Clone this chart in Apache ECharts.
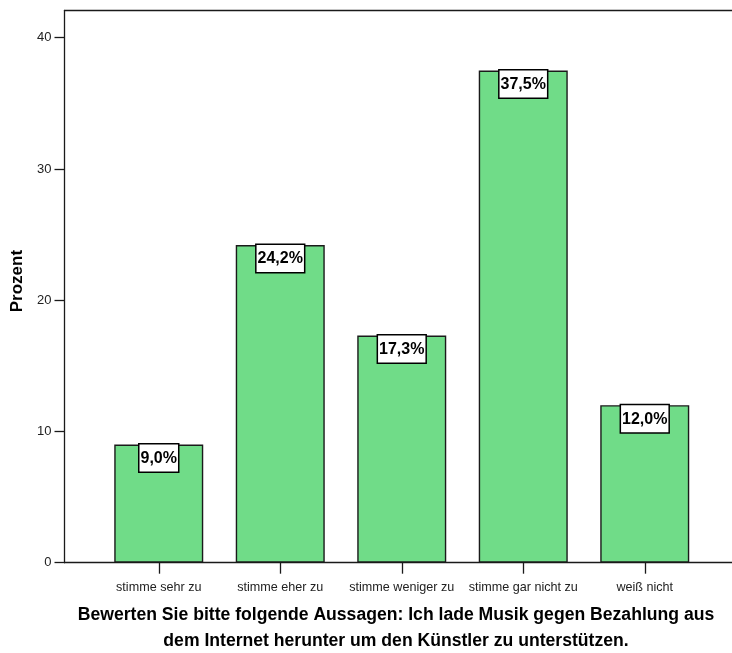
<!DOCTYPE html>
<html>
<head>
<meta charset="utf-8">
<script src="https://cdn.jsdelivr.net/npm/echarts@6/dist/echarts.min.js"></script>
<style>
  html, body { margin: 0; padding: 0; background: #fff; }
  #main { width: 732px; height: 653px; }
</style>
</head>
<body>
<div id="main"></div>
<script>
// Antwortkategorien und Prozentwerte
var categories = ['stimme sehr zu', 'stimme eher zu', 'stimme weniger zu', 'stimme gar nicht zu', 'weiß nicht'];
var percentValues = [9.0, 24.2, 17.3, 37.5, 12.0];
var yTicks = [0, 10, 20, 30, 40];
var titleLines = [
  'Bewerten Sie bitte folgende Aussagen: Ich lade Musik gegen Bezahlung aus',
  'dem Internet herunter um den Künstler zu unterstützen.'
];

var myChart = echarts.init(document.getElementById('main'));
var axisColor = '#1a1a1a';
var fontFam = '"Liberation Sans", Arial, sans-serif';
var yMax = 42.07;

var option = {
  backgroundColor: '#fff',
  animation: false,
  grid: [
    // Rahmen + Y-Achse
    { left: 64.5, right: 0, top: 10.5, bottom: 90.3 },
    // Balken
    { left: 98, width: 607.5, top: 10.5, bottom: 90.3 }
  ],
  xAxis: [
    {
      gridIndex: 0, type: 'value', min: 0, max: 1, position: 'bottom',
      axisLine: { show: true, lineStyle: { color: axisColor, width: 1.3 } },
      axisTick: { show: false }, axisLabel: { show: false }, splitLine: { show: false }
    },
    {
      gridIndex: 0, type: 'value', min: 0, max: 1, position: 'top',
      axisLine: { show: true, onZero: false, lineStyle: { color: axisColor, width: 1.3 } },
      axisTick: { show: false }, axisLabel: { show: false }, splitLine: { show: false }
    },
    {
      gridIndex: 1, type: 'category', data: categories,
      axisLine: { show: false },
      axisTick: { show: true, alignWithLabel: true, length: 11, lineStyle: { color: axisColor, width: 1.3 } },
      axisLabel: { margin: 18, color: '#222', fontSize: 12.6, fontFamily: fontFam, interval: 0 }
    }
  ],
  yAxis: [
    {
      gridIndex: 0, type: 'value', min: 0, max: yMax,
      name: 'Prozent', nameLocation: 'middle', nameRotate: 90, nameGap: 39,
      nameTextStyle: { fontSize: 17, fontWeight: 'bold', color: '#000', fontFamily: fontFam, padding: [0, 0, 0, 11] },
      axisLine: { show: true, lineStyle: { color: axisColor, width: 1.3 } },
      axisTick: { show: true, length: 10, customValues: yTicks, lineStyle: { color: axisColor, width: 1.3 } },
      axisLabel: { margin: 13, color: '#222', fontSize: 13, fontFamily: fontFam, customValues: yTicks },
      splitLine: { show: false }
    },
    {
      gridIndex: 1, type: 'value', min: 0, max: yMax, show: false, splitLine: { show: false }
    }
  ],
  series: [{
    type: 'bar',
    xAxisIndex: 2,
    yAxisIndex: 1,
    data: percentValues,
    barWidth: 89,
    itemStyle: { color: '#70dc88', borderColor: '#1a1a1a', borderWidth: 1.4 },
    label: {
      show: true,
      position: 'insideTop',
      distance: 0,
      formatter: function (p) { return p.value.toFixed(1).replace('.', ',') + '%'; },
      color: '#000',
      fontSize: 16,
      lineHeight: 18,
      fontWeight: 'bold',
      fontFamily: fontFam,
      backgroundColor: '#fff',
      borderColor: '#000',
      borderWidth: 1.5,
      padding: [5, 1, 4, 1]
    }
  }],
  graphic: [
    {
      type: 'text', x: 396, y: 615,
      style: { text: titleLines[0], fill: '#000', font: 'bold 17.6px ' + fontFam, align: 'center', verticalAlign: 'middle' }
    },
    {
      type: 'text', x: 396, y: 641,
      style: { text: titleLines[1], fill: '#000', font: 'bold 17.6px ' + fontFam, align: 'center', verticalAlign: 'middle' }
    }
  ]
};

myChart.setOption(option);
</script>
</body>
</html>
